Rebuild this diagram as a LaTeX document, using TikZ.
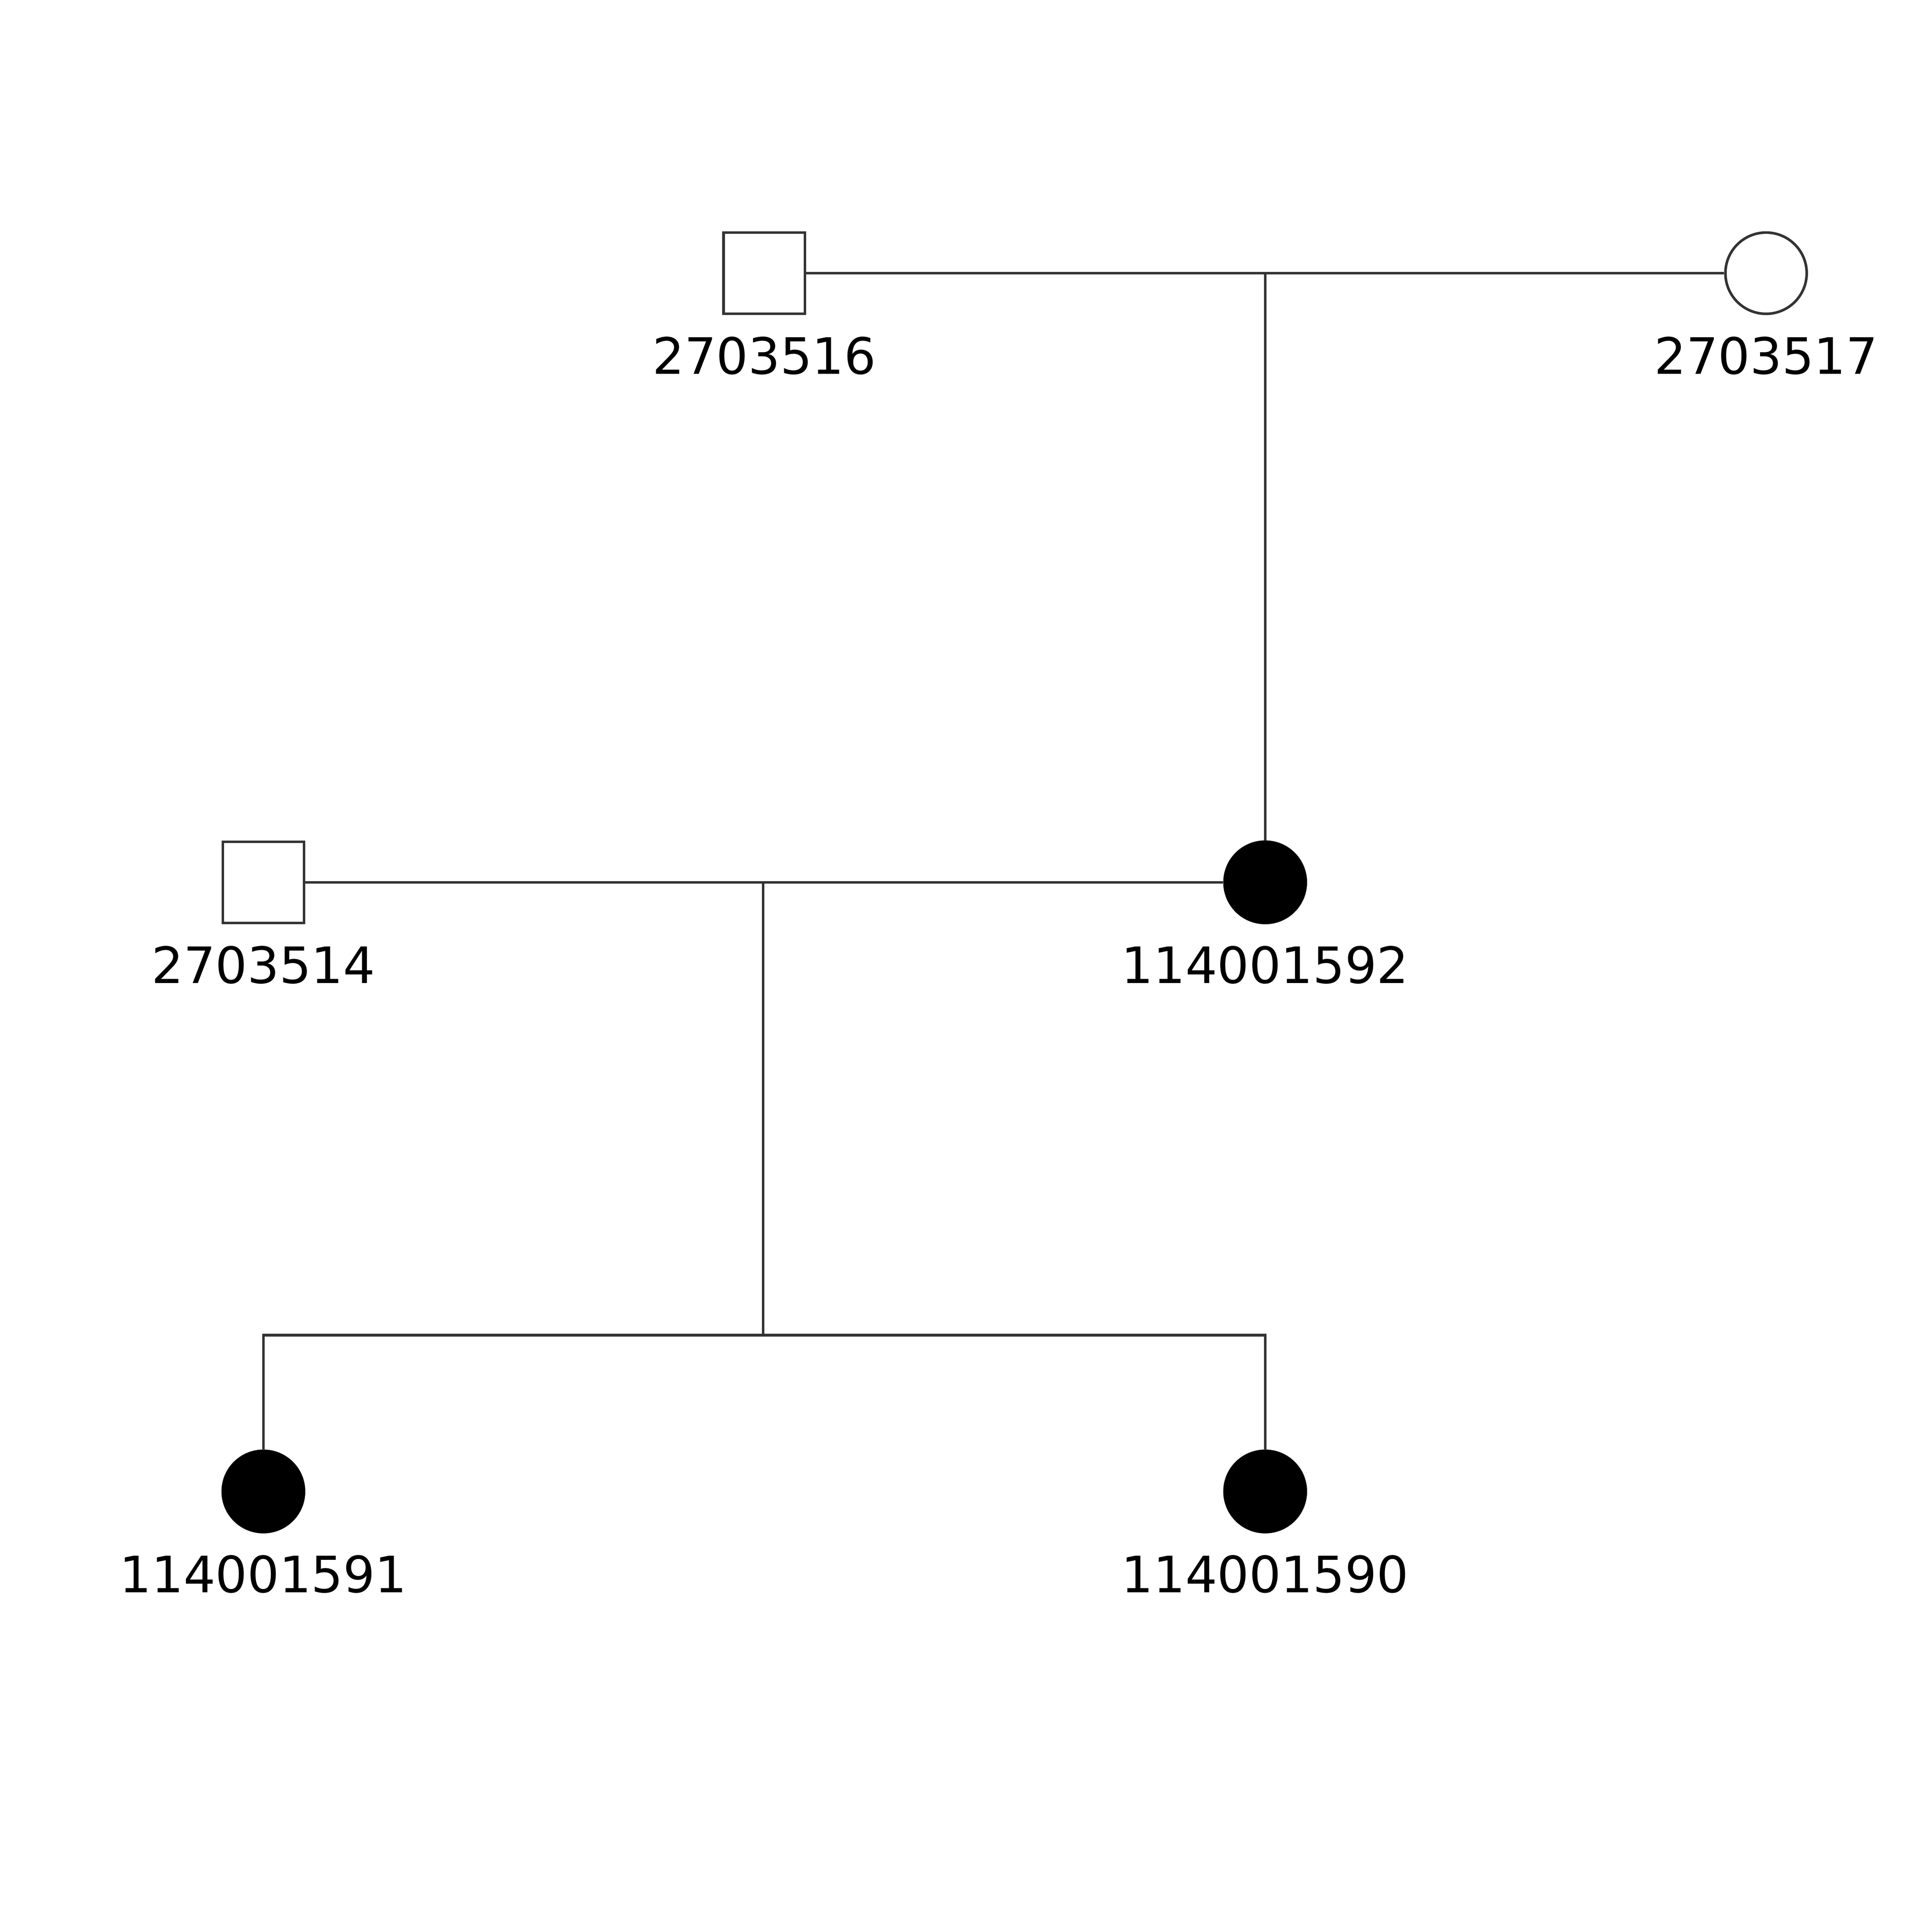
\documentclass[tikz,border=0pt]{standalone}
\usepackage{fontspec}
\setmainfont{DejaVu Sans}
\usepackage{tikz}
\usetikzlibrary{positioning}

\tikzset{
  person/.style={draw=black!80, line width=0.6pt, minimum size=0.66cm, inner sep=0pt, fill=white},
  male/.style={person, rectangle},
  female/.style={person, circle},
  affected/.style={fill=black, draw=black},
  idlabel/.style={font=\fontsize{11.6}{14}\selectfont, inner sep=0pt},
  rel/.style={draw=black!80, line width=0.6pt}
}

\begin{document}
\begin{tikzpicture}[x=0.01cm, y=-0.01cm]
  \useasboundingbox (0,0) rectangle (1560,1570);
  % generation I
  \node[male] (f1) at (621,222) {};
  \node[idlabel, below=0.17cm of f1] (f1id) {2703516};
  \node[female] (m1) at (1435,222) {};
  \node[idlabel, below=0.17cm of m1] (m1id) {2703517};
  \coordinate (u1) at (1028,222);
  % generation II
  \node[male] (f2) at (214,717) {};
  \node[idlabel, below=0.17cm of f2] (f2id) {2703514};
  \node[female, affected] (m2) at (1028,717) {};
  \node[idlabel, below=0.17cm of m2] (m2id) {114001592};
  \coordinate (u2) at (620,717);
  \coordinate (sib) at (620,1085);
  % generation III
  \node[female, affected] (c1) at (214,1212) {};
  \node[idlabel, below=0.17cm of c1] (c1id) {114001591};
  \node[female, affected] (c2) at (1028,1212) {};
  \node[idlabel, below=0.17cm of c2] (c2id) {114001590};

  \draw[rel] (f1.east) -- (m1.west);
  \draw[rel] (u1) -- (m2.north);
  \draw[rel] (f2.east) -- (m2.west);
  \draw[rel] (u2) -- (sib);
  \draw[rel] (c1.north) |- (sib) -| (c2.north);
\end{tikzpicture}
\end{document}
